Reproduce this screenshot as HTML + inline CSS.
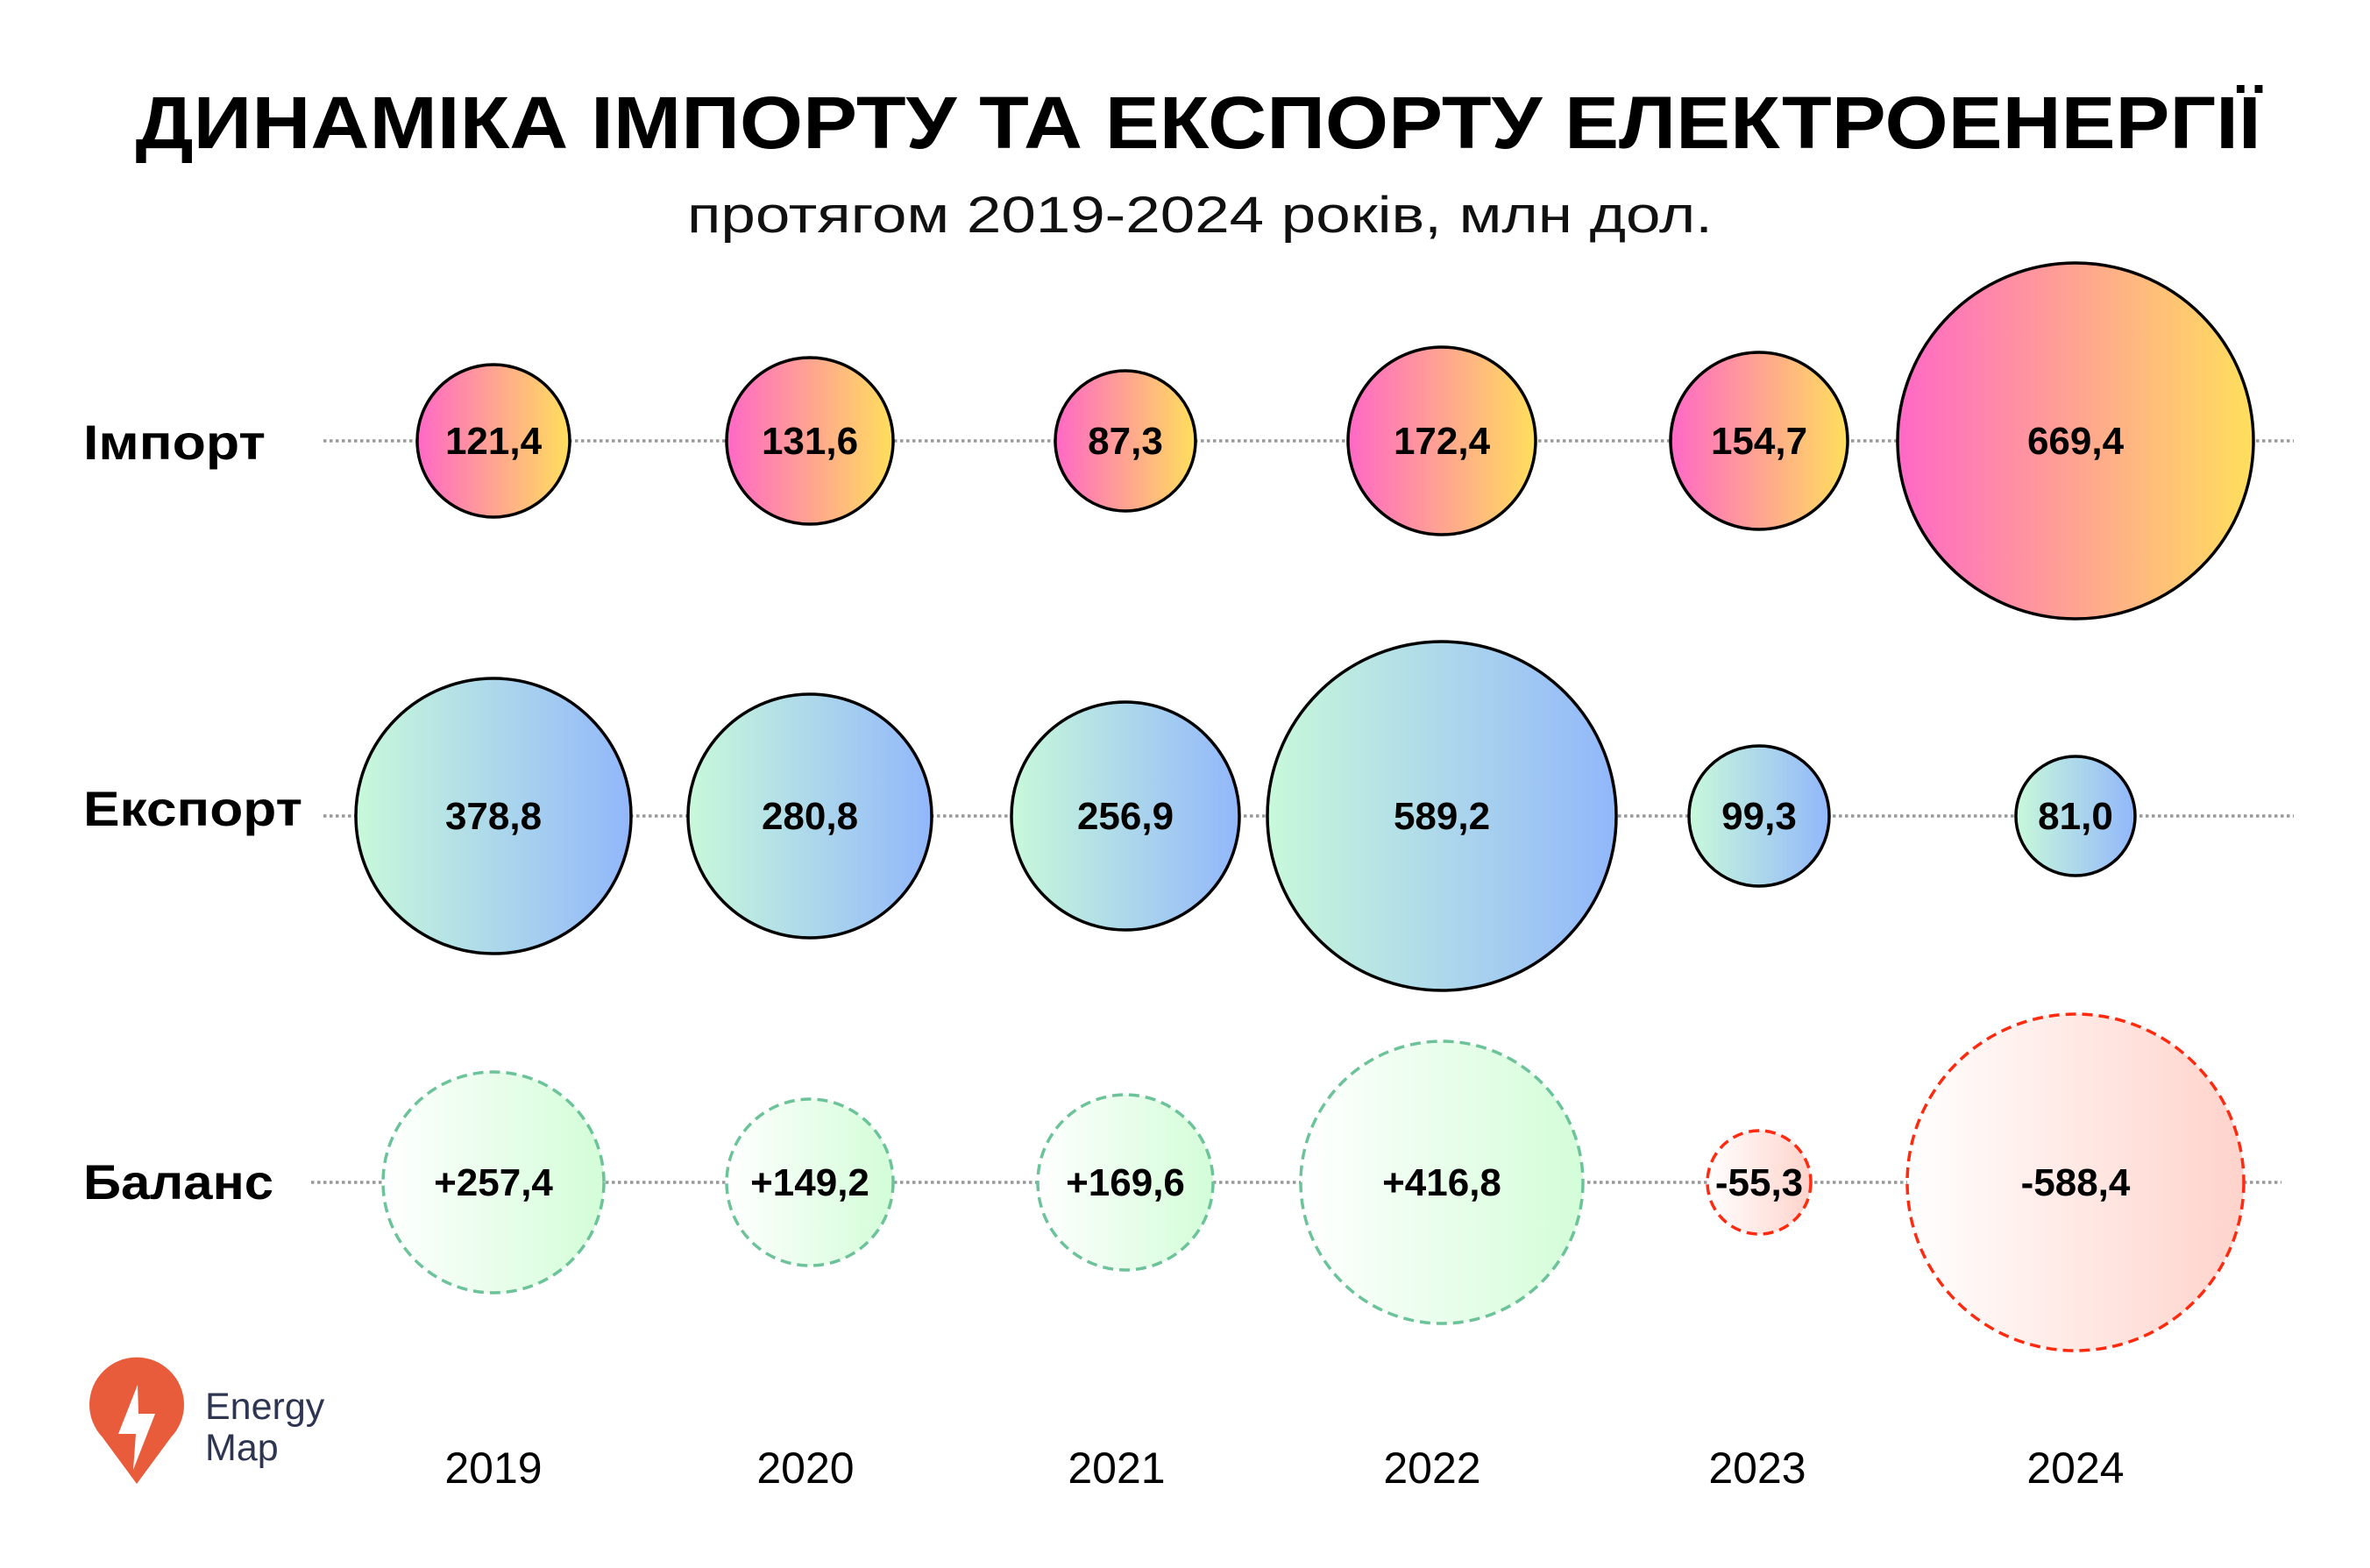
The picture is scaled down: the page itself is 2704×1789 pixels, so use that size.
<!DOCTYPE html>
<html><head><meta charset="utf-8"><style>html,body{margin:0;padding:0;background:#fff}svg{display:block}</style></head><body>
<svg width="2704" height="1789" viewBox="0 0 2704 1789" xmlns="http://www.w3.org/2000/svg" font-family="Liberation Sans, DejaVu Sans, sans-serif">
<defs>
<linearGradient id="gi" x1="0" x2="1" y1="0" y2="0"><stop offset="0" stop-color="#ff68c6"/><stop offset="1" stop-color="#ffdf5c"/></linearGradient>
<linearGradient id="ge" x1="0" x2="1" y1="0" y2="0"><stop offset="0" stop-color="#c8f9da"/><stop offset="1" stop-color="#92b7fb"/></linearGradient>
<linearGradient id="gg" x1="0" x2="1" y1="0" y2="0"><stop offset="0" stop-color="#ffffff"/><stop offset="1" stop-color="#d3fdd8"/></linearGradient>
<linearGradient id="gr" x1="0" x2="1" y1="0" y2="0"><stop offset="0" stop-color="#ffffff"/><stop offset="1" stop-color="#ffd3cb"/></linearGradient>
</defs>
<rect width="2704" height="1789" fill="#fff"/>
<text x="1367" y="169" text-anchor="middle" font-size="84" font-weight="bold" textLength="2425" lengthAdjust="spacingAndGlyphs" fill="#000">ДИНАМІКА ІМПОРТУ ТА ЕКСПОРТУ ЕЛЕКТРОЕНЕРГІЇ</text>
<text x="1369" y="265" text-anchor="middle" font-size="58" textLength="1170" lengthAdjust="spacingAndGlyphs" fill="#111">протягом 2019-2024 років, млн дол.</text>
<g stroke="#999" stroke-width="3.5" stroke-dasharray="3.5 3.5">
<line x1="369" y1="503" x2="2617" y2="503"/>
<line x1="369" y1="931" x2="2617" y2="931"/>
<line x1="355" y1="1349" x2="2603" y2="1349"/>
</g>
<g font-size="56" font-weight="bold" fill="#000">
<text x="95" y="524" textLength="208" lengthAdjust="spacingAndGlyphs">Імпорт</text>
<text x="95" y="942" textLength="250" lengthAdjust="spacingAndGlyphs">Експорт</text>
<text x="95" y="1368" textLength="217" lengthAdjust="spacingAndGlyphs">Баланс</text>
</g>
<g stroke="#000" stroke-width="3.5" fill="url(#gi)">
<circle cx="563" cy="503" r="87"/><circle cx="924" cy="503" r="95"/><circle cx="1284" cy="503" r="80"/>
<circle cx="1645" cy="503" r="107"/><circle cx="2007" cy="503" r="101"/><circle cx="2368" cy="503" r="203"/>
</g>
<g stroke="#000" stroke-width="3.5" fill="url(#ge)">
<circle cx="563" cy="931" r="157"/><circle cx="924" cy="931" r="139"/><circle cx="1284" cy="931" r="130"/>
<circle cx="1645" cy="931" r="199"/><circle cx="2007" cy="931" r="80"/><circle cx="2368" cy="931" r="68"/>
</g>
<g stroke="#6cc39a" stroke-width="3.5" stroke-dasharray="12 7" fill="url(#gg)">
<circle cx="563" cy="1349" r="126"/><circle cx="924" cy="1349" r="95"/><circle cx="1284" cy="1349" r="100"/>
<circle cx="1645" cy="1349" r="161"/>
</g>
<g stroke="#ff2a0f" stroke-width="3.5" stroke-dasharray="12 7" fill="url(#gr)">
<circle cx="2007" cy="1349" r="59"/><circle cx="2368" cy="1349" r="192"/>
</g>
<g font-size="44" font-weight="bold" fill="#000" text-anchor="middle">
<text x="563" y="518">121,4</text><text x="924" y="518">131,6</text><text x="1284" y="518">87,3</text>
<text x="1645" y="518">172,4</text><text x="2007" y="518">154,7</text><text x="2368" y="518">669,4</text>
<text x="563" y="946">378,8</text><text x="924" y="946">280,8</text><text x="1284" y="946">256,9</text>
<text x="1645" y="946">589,2</text><text x="2007" y="946">99,3</text><text x="2368" y="946">81,0</text>
<text x="563" y="1364">+257,4</text><text x="924" y="1364">+149,2</text><text x="1284" y="1364">+169,6</text>
<text x="1645" y="1364">+416,8</text><text x="2007" y="1364">-55,3</text><text x="2368" y="1364">-588,4</text>
</g>
<g font-size="50" fill="#000" text-anchor="middle">
<text x="563" y="1692">2019</text><text x="919" y="1692">2020</text><text x="1274" y="1692">2021</text>
<text x="1634" y="1692">2022</text><text x="2005" y="1692">2023</text><text x="2368" y="1692">2024</text>
</g>
<path d="M156 1693 L117 1640 A54 54 0 1 1 195 1640 Z" fill="#e85c3c"/>
<path d="M157 1580 L135 1636 L155 1636 L152 1677 L177 1613 L158 1613 Z" fill="#fff"/>
<g font-size="43" fill="#2e3551">
<text x="234" y="1619">Energy</text>
<text x="234" y="1666">Map</text>
</g>
</svg>
</body></html>
